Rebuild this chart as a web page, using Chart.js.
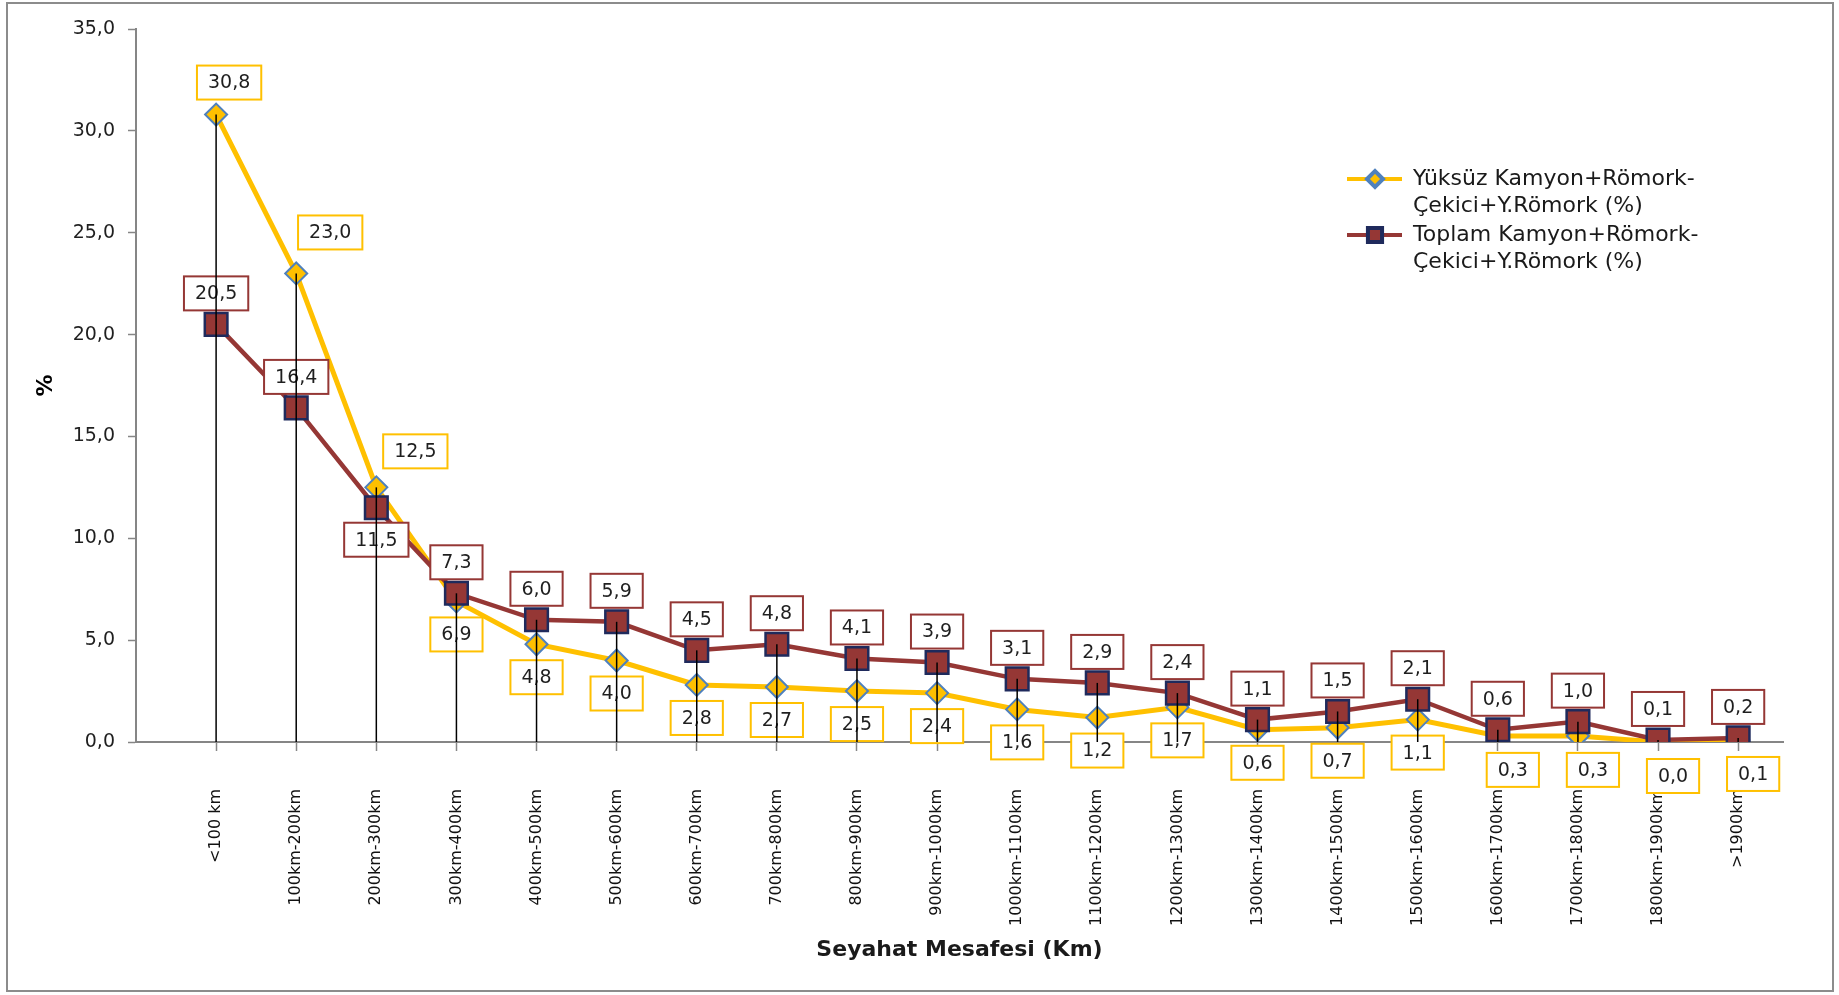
<!DOCTYPE html>
<html>
<head>
<meta charset="utf-8">
<title>Seyahat Mesafesi</title>
<script src="https://cdn.jsdelivr.net/npm/chart.js@4.4.1/dist/chart.umd.min.js"></script>
<style>
  html, body { margin: 0; padding: 0; background: #fff; }
  #wrap { width: 1839px; height: 995px; position: relative; }
</style>
</head>
<body>
<div id="wrap"><canvas id="distanceChart"></canvas></div>
<script>
// Travel distance classes and shares (%)
const distanceLabels = [
  '<100 km', '100km-200km', '200km-300km', '300km-400km', '400km-500km',
  '500km-600km', '600km-700km', '700km-800km', '800km-900km', '900km-1000km',
  '1000km-1100km', '1100km-1200km', '1200km-1300km', '1300km-1400km', '1400km-1500km',
  '1500km-1600km', '1600km-1700km', '1700km-1800km', '1800km-1900km', '>1900km'
];
const yuksuzValues = [30.8, 23.0, 12.5, 6.9, 4.8, 4.0, 2.8, 2.7, 2.5, 2.4, 1.6, 1.2, 1.7, 0.6, 0.7, 1.1, 0.3, 0.3, 0.0, 0.1];
const toplamValues = [20.5, 16.4, 11.5, 7.3, 6.0, 5.9, 4.5, 4.8, 4.1, 3.9, 3.1, 2.9, 2.4, 1.1, 1.5, 2.1, 0.6, 1.0, 0.1, 0.2];
const yuksuzName = ['Yüksüz Kamyon+Römork-', 'Çekici+Y.Römork (%)'];
const toplamName = ['Toplam Kamyon+Römork-', 'Çekici+Y.Römork (%)'];
const yMax = 35;
const yStep = 5;

const FONT = '"DejaVu Sans", sans-serif';
const yellow = '#FFC000';
const darkRed = '#953735';

function fmt(v) {
  return Number(v).toFixed(1).replace('.', ',');
}

// where each value box sits relative to its point
function yuksuzOffset(i) {
  if (i === 0) return [13, -32];
  if (i === 1) return [34, -41];
  if (i === 2) return [39, -36];
  if (i >= 16) return [15, 34];
  return [0, 33];
}
function toplamOffset(i) {
  if (i === 2) return [0, 32];
  return [0, -31];
}

const frame = {
  id: 'frame',
  beforeDraw(chart) {
    const ctx = chart.ctx;
    ctx.save();
    ctx.fillStyle = '#fff';
    ctx.fillRect(0, 0, chart.width, chart.height);
    ctx.strokeStyle = '#8c8c8c';
    ctx.lineWidth = 2;
    ctx.strokeRect(7, 3, 1826, 988);
    ctx.restore();
  }
};

const valueBoxes = {
  id: 'valueBoxes',
  afterDatasetsDraw(chart) {
    const ctx = chart.ctx;
    const offsets = [yuksuzOffset, toplamOffset];
    ctx.save();
    ctx.font = '19px ' + FONT;
    ctx.textAlign = 'center';
    ctx.textBaseline = 'middle';
    chart.data.datasets.forEach((ds, di) => {
      const meta = chart.getDatasetMeta(di);
      meta.data.forEach((pt, i) => {
        const [dx, dy] = offsets[di](i);
        const text = fmt(ds.data[i].y);
        const w = ctx.measureText(text).width + 22;
        const h = 34;
        const cx = pt.x + dx;
        const cy = pt.y + dy;
        ctx.fillStyle = '#fff';
        ctx.fillRect(cx - w / 2, cy - h / 2, w, h);
        ctx.lineWidth = 2;
        ctx.strokeStyle = ds.borderColor;
        ctx.strokeRect(cx - w / 2, cy - h / 2, w, h);
        ctx.fillStyle = '#1f1f1f';
        ctx.fillText(text, cx, cy + 1);
      });
    });

    // drop lines from the higher point down to the axis
    const base = chart.scales.y.getPixelForValue(0);
    ctx.strokeStyle = '#000';
    ctx.lineWidth = 1.5;
    distanceLabels.forEach((_, i) => {
      const ys = chart.data.datasets.map((ds, di) => chart.getDatasetMeta(di).data[i].y);
      const x = chart.getDatasetMeta(0).data[i].x;
      ctx.beginPath();
      ctx.moveTo(x, Math.min(...ys));
      ctx.lineTo(x, base);
      ctx.stroke();
    });
    ctx.restore();
  }
};

const sideLegend = {
  id: 'sideLegend',
  afterDraw(chart) {
    const ctx = chart.ctx;
    const entries = [
      { ds: chart.data.datasets[0], lines: yuksuzName, y: 179 },
      { ds: chart.data.datasets[1], lines: toplamName, y: 235 }
    ];
    ctx.save();
    ctx.font = '22px ' + FONT;
    ctx.textBaseline = 'middle';
    ctx.textAlign = 'left';
    entries.forEach((e) => {
      ctx.strokeStyle = e.ds.borderColor;
      ctx.lineWidth = 4;
      ctx.beginPath();
      ctx.moveTo(1347, e.y);
      ctx.lineTo(1402, e.y);
      ctx.stroke();
      ctx.fillStyle = e.ds.pointBackgroundColor;
      ctx.strokeStyle = e.ds.pointBorderColor;
      Chart.helpers.drawPoint(ctx, {
        pointStyle: e.ds.pointStyle,
        radius: e.ds.pointStyle === 'rect' ? 10 : 8,
        borderWidth: 1.5,
        rotation: 0
      }, 1375, e.y);
      ctx.fillStyle = '#1a1a1a';
      e.lines.forEach((t, k) => ctx.fillText(t, 1413, e.y + k * 27.5));
    });
    ctx.restore();
  }
};

const ctx = document.getElementById('distanceChart').getContext('2d');
const distanceChart = new Chart(ctx, {
  type: 'line',
  data: {
    datasets: [
      {
        label: yuksuzName.join(''),
        data: yuksuzValues.map((v, i) => ({ x: i, y: v })),
        borderColor: yellow,
        borderWidth: 5,
        pointStyle: 'rectRot',
        pointRadius: 11,
        pointBackgroundColor: yellow,
        pointBorderColor: '#4F81BD',
        pointBorderWidth: 2,
        tension: 0,
        order: 2
      },
      {
        label: toplamName.join(''),
        data: toplamValues.map((v, i) => ({ x: i, y: v })),
        borderColor: darkRed,
        borderWidth: 4.5,
        pointStyle: 'rect',
        pointRadius: 16,
        pointBackgroundColor: darkRed,
        pointBorderColor: '#1F2A5C',
        pointBorderWidth: 2.5,
        tension: 0,
        order: 1
      }
    ]
  },
  options: {
    responsive: true,
    maintainAspectRatio: false,
    animation: false,
    layout: { padding: { left: 0, top: 29, right: 56, bottom: 0 } },
    plugins: {
      legend: { display: false },
      tooltip: { enabled: false }
    },
    scales: {
      x: {
        type: 'linear',
        min: -1,
        max: 19.56,
        afterBuildTicks: (scale) => {
          scale.ticks = distanceLabels.map((_, i) => ({ value: i }));
        },
        afterFit: (scale) => { scale.height = 253; },
        grid: { drawOnChartArea: false, tickLength: 9, tickColor: '#868686', tickWidth: 1.5 },
        border: { color: '#868686', width: 2 },
        ticks: {
          autoSkip: false,
          minRotation: 90,
          maxRotation: 90,
          padding: 38,
          color: '#111',
          font: { family: FONT, size: 16 },
          callback: (v) => distanceLabels[v]
        },
        title: {
          display: true,
          text: 'Seyahat Mesafesi (Km)',
          color: '#1a1a1a',
          font: { family: FONT, size: 22, weight: 'bold' },
          padding: { top: 0, bottom: 32 }
        }
      },
      y: {
        min: 0,
        max: yMax,
        afterFit: (scale) => { scale.width = 136; },
        grid: { drawOnChartArea: false, tickLength: 8, tickColor: '#868686', tickWidth: 1.5 },
        border: { color: '#868686', width: 2 },
        ticks: {
          stepSize: yStep,
          padding: 13,
          color: '#1f1f1f',
          font: { family: FONT, size: 19 },
          callback: (v) => fmt(v)
        },
        title: {
          display: true,
          text: '%',
          color: '#000',
          font: { family: FONT, size: 22, weight: 'bold' },
          padding: { top: 33, bottom: 0 }
        }
      }
    }
  },
  plugins: [frame, valueBoxes, sideLegend]
});
</script>
</body>
</html>
